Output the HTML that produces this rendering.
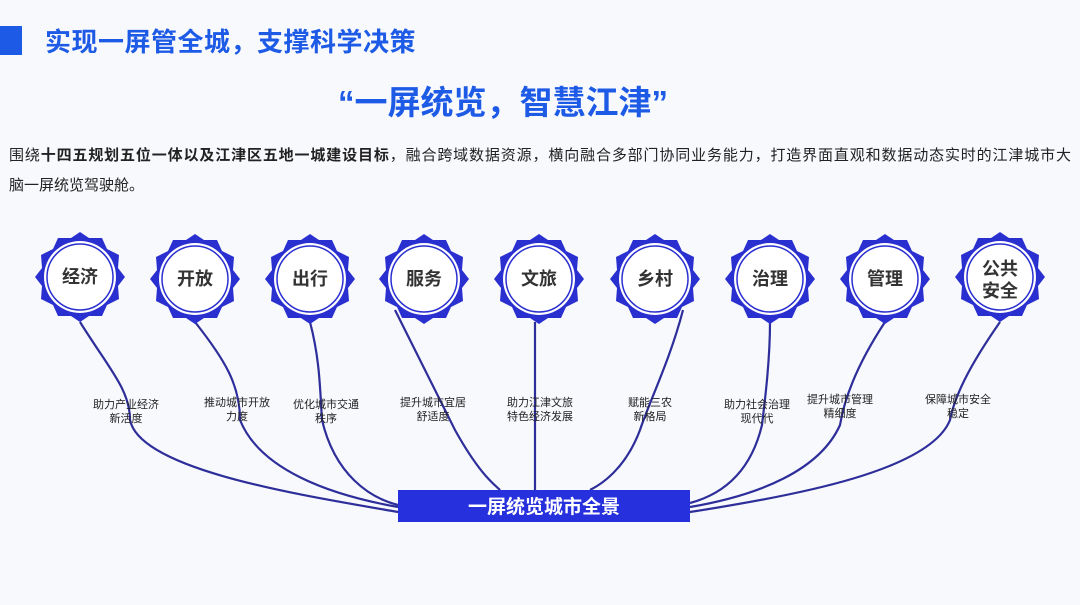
<!DOCTYPE html>
<html><head><meta charset="utf-8"><style>
html,body{margin:0;padding:0;}
body{width:1080px;height:605px;background:#f8f9fd;position:relative;overflow:hidden;font-family:"Liberation Sans","Noto Sans CJK SC",sans-serif;}
.sq{position:absolute;left:0;top:26px;width:22px;height:29px;background:#1d5ae6;}
.t1{position:absolute;left:45px;top:22px;font-size:26px;font-weight:bold;color:#1d5ae6;white-space:nowrap;letter-spacing:0.5px;}
.t2{position:absolute;left:338px;top:76px;font-size:33px;font-weight:bold;color:#1d5ae6;white-space:nowrap;}
.p1{position:absolute;left:9px;top:141px;width:1062px;font-size:15px;line-height:30px;color:#222;text-align:justify;text-align-last:justify;white-space:nowrap;}
.p2{position:absolute;left:9px;top:171px;font-size:15px;line-height:30px;color:#222;white-space:nowrap;}
svg{position:absolute;left:0;top:0;}
</style></head><body>
<div class="sq"></div>
<div class="t1">实现一屏管全城，支撑科学决策</div>
<div class="t2">“一屏统览，智慧江津”</div>
<div class="p1">围绕<b>十四五规划五位一体以及江津区五地一城建设目标</b>，融合跨域数据资源，横向融合多部门协同业务能力，打造界面直观和数据动态实时的江津城市大</div>
<div class="p2">脑一屏统览驾驶舱。</div>
<svg width="1080" height="605" viewBox="0 0 1080 605" font-family="Liberation Sans, Noto Sans CJK SC, sans-serif">
<defs>
<g id="star">
<polygon fill="#2a2fd0" points="0,-45 9,-39 22,-39 27,-28 39,-22 38,-9 45,0 38,9 39,22 27,28 22,39 9,39 0,45 -9,39 -22,39 -27,28 -39,22 -38,9 -45,0 -38,-9 -39,-22 -27,-28 -22,-39 -9,-39"/>
<circle r="36" fill="#fff"/>
<circle r="33" fill="none" stroke="#2a2fd0" stroke-width="1.5"/>
</g>
</defs>
<g fill="none" stroke="#2e2e9a" stroke-width="2.2">
<path d="M80,322 C110,370 130,390 130,420 C140,470 300,495 398,512"/>
<path d="M195,322 C225,360 240,385 240,420 C260,470 330,495 398,507"/>
<path d="M310,322 C320,360 320,390 322,420 C335,475 370,498 398,505"/>
<path d="M395,310 C420,360 440,400 455,430 C480,475 495,485 500,490"/>
<path d="M535,322 L535,490"/>
<path d="M683,310 C670,360 650,400 640,430 C625,470 600,485 590,490"/>
<path d="M770,322 C770,360 765,400 762,425 C750,475 720,495 690,503"/>
<path d="M885,322 C860,360 845,395 840,425 C820,470 760,495 690,507"/>
<path d="M1000,322 C970,365 955,395 950,420 C930,470 800,495 690,512"/>
</g>
<g>
<use href="#star" x="80" y="277"/><use href="#star" x="195" y="279"/><use href="#star" x="310" y="279"/>
<use href="#star" x="424" y="279"/><use href="#star" x="539" y="279"/><use href="#star" x="655" y="279"/>
<use href="#star" x="770" y="279"/><use href="#star" x="885" y="279"/><use href="#star" x="1000" y="277"/>
</g>
<g font-size="18" font-weight="bold" fill="#333" text-anchor="middle">
<text x="80" y="283">经济</text><text x="195" y="285">开放</text><text x="310" y="285">出行</text>
<text x="424" y="285">服务</text><text x="539" y="285">文旅</text><text x="655" y="285">乡村</text>
<text x="770" y="285">治理</text><text x="885" y="285">管理</text>
<text x="1000" y="275">公共</text><text x="1000" y="297">安全</text>
</g>
<g font-size="11" fill="#222" text-anchor="middle">
<text x="126" y="408">助力产业经济</text><text x="126" y="422">新活度</text>
<text x="237" y="406">推动城市开放</text><text x="237" y="420">力度</text>
<text x="326" y="408">优化城市交通</text><text x="326" y="422">秩序</text>
<text x="433" y="406">提升城市宜居</text><text x="433" y="420">舒适度</text>
<text x="540" y="406">助力江津文旅</text><text x="540" y="420">特色经济发展</text>
<text x="650" y="406">赋能三农</text><text x="650" y="420">新格局</text>
<text x="757" y="408">助力社会治理</text><text x="757" y="422">现代代</text>
<text x="840" y="403">提升城市管理</text><text x="840" y="417">精细度</text>
<text x="958" y="403">保障城市安全</text><text x="958" y="417">稳定</text>
</g>
<rect x="398" y="490" width="292" height="32" fill="#2630dc"/>
<text x="544" y="513" font-size="19" font-weight="bold" fill="#fff" text-anchor="middle">一屏统览城市全景</text>
</svg>
</body></html>
